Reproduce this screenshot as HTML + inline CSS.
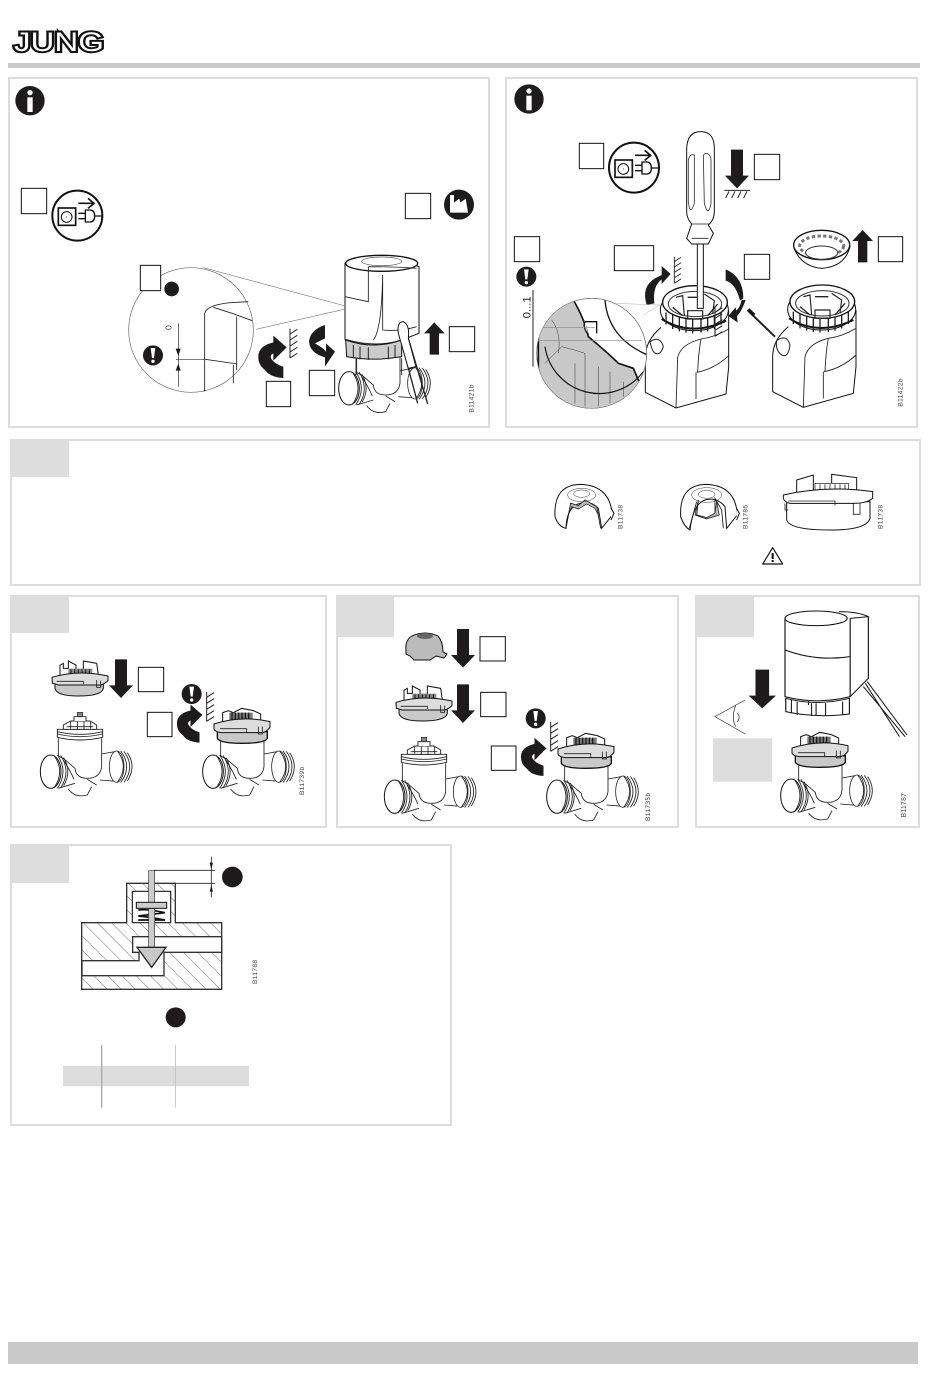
<!DOCTYPE html>
<html><head><meta charset="utf-8"><style>
html,body{margin:0;padding:0;background:#fff}
svg{display:block}
text{font-family:"Liberation Sans",sans-serif}
.p{fill:#fff;stroke:#ddd;stroke-width:2}
.h{fill:#ddd}
.b{fill:#fff;stroke:#111;stroke-width:3}
.l{fill:none;stroke:#222;stroke-width:2.6}
.t{fill:none;stroke:#333;stroke-width:1.5}
.k{fill:#1d1b1b}
.c{font-size:20px;fill:#444;letter-spacing:1px}
</style></head><body>
<svg xmlns="http://www.w3.org/2000/svg" width="950" height="1378" viewBox="0 0 950 1378">
<defs>
<pattern id="hat" width="30" height="30" patternUnits="userSpaceOnUse" patternTransform="rotate(-45)">
<rect width="30" height="30" fill="#fff"/><line x1="0" y1="0" x2="0" y2="30" stroke="#777" stroke-width="3"/>
</pattern>
<g id="info"><circle r="44" class="k"/><circle cy="-24" r="8" fill="#fff"/><rect x="-8" y="-10" width="16" height="44" fill="#fff"/></g>
<g id="excl"><circle r="30" class="k"/><path d="M-7 -22H7L3 8H-3Z" fill="#fff"/><circle cy="18" r="5" fill="#fff"/></g>
<g id="unplug"><circle r="75" fill="#fff" stroke="#111" stroke-width="6"/>
<rect x="-57" y="-23" width="52" height="52" fill="none" stroke="#111" stroke-width="5"/><circle cx="-32" cy="4" r="16" fill="none" stroke="#111" stroke-width="3"/><circle cx="-32" cy="4" r="1.5" fill="#111"/>
<path d="M3 -37H50M32 -52L50 -37L32 -22" fill="none" stroke="#111" stroke-width="5"/>
<path d="M3 -7H24M3 9H24M24 -17H38Q52 -17 52 1Q52 19 38 19H24ZM52 1H76" fill="none" stroke="#111" stroke-width="4"/></g>
<path id="up" d="M-14 32V-32H-31L0 -65L31 -32H14V32Z" class="k"/>
<path id="dn" d="M-18 -58H18V20H36L0 58L-36 20H-18Z" class="k"/>
<path id="cw" d="M-40 68Q-62 52 -60 25Q-58 -5 -15 -15V-35L25 0L-15 40V18Q-28 25 -20 36Q-10 50 15 58V92Q-25 90 -40 68Z" class="k"/>
<g id="wall"><path d="M0 -44V44M0 -28L22 -42M0 -10L22 -24M0 8L22 -6M0 26L22 12M0 44L22 30" fill="none" stroke="#222" stroke-width="3"/></g>
<g id="valve">
<path d="M175 445V495Q175 500 190 505L225 535Q228 565 262 565Q300 565 305 530V445M305 492L350 484M300 570L350 574M225 580L175 595M190 510Q210 540 222 568M205 597Q225 625 262 615L275 590M262 568L290 585" class="l"/>
<ellipse cx="152" cy="545" rx="31" ry="50" class="b" stroke-width="2.5"/>
<path d="M162 496Q196 545 162 594M172 495Q206 545 172 595M182 496Q214 545 182 594M191 503Q216 545 191 587" class="l"/>
<ellipse cx="350" cy="530" rx="22" ry="47" fill="#fff" stroke="#222" stroke-width="2.4"/>
<path d="M352 483Q388 530 352 577M362 483Q398 530 362 578M372 484Q406 530 372 577M382 488Q410 530 382 573" class="l"/>
</g>
<g id="vtop">
<path d="M172 418H308V442Q240 458 172 442Z" fill="#fff" stroke="#222" stroke-width="2.8"/>
<path d="M172 425Q240 441 308 425M172 432Q240 448 308 432" class="l"/>
<path d="M190 405L212 393H270L290 405V418H190Z" fill="#fff" stroke="#222" stroke-width="2.8"/>
<path d="M222 393V380H258V393" fill="#fff" stroke="#222" stroke-width="2.8"/>
<rect x="232" y="367" width="16" height="13" fill="#888" stroke="#222" stroke-width="2"/>
<path d="M200 410H280M212 395V416M232 395V420M252 395V420M272 395V416" class="l"/>
</g>
<g id="adapter">
<path d="M165 280V295Q170 318 235 318Q305 318 310 295V280Z" fill="#c9c9c9" stroke="#111" stroke-width="3"/>
<path d="M180 255V226L190 220V235H205V213L228 225V238H250V213L290 220L295 255" fill="#fff" stroke="#111" stroke-width="3"/>
<rect x="205" y="236" width="72" height="28" fill="#888"/>
<path d="M213 238V262M224 238V262M235 238V262M246 238V262M257 238V262M268 238V262" stroke="#111" stroke-width="3"/>
<path d="M156 262Q235 238 324 258V272Q310 285 300 285H175Q160 280 157 280Z" fill="#ddd" stroke="#111" stroke-width="3"/>
<path d="M170 274H250V282M290 270V292H302V272" fill="none" stroke="#222" stroke-width="2.5"/>
</g>
<g id="adtop">
<path d="M652 425V445Q660 460 725 460Q795 460 802 445V425Z" fill="#c9c9c9" stroke="#111" stroke-width="4"/>
<path d="M668 400V368L685 362L700 368L725 355L760 362L782 372V400Z" fill="#fff" stroke="#111" stroke-width="3"/>
<rect x="688" y="368" width="70" height="36" fill="#777"/>
<path d="M696 368V404M706 368V404M716 368V404M726 368V404M736 368V404M746 368V404" stroke="#111" stroke-width="3.5"/>
<path d="M642 402Q725 375 810 395V412Q798 428 785 428H665Q646 426 642 418Z" fill="#ddd" stroke="#111" stroke-width="3"/>
<path d="M660 416H740V428M775 410V432H787V410" fill="none" stroke="#222" stroke-width="2.5"/>
</g>
<g id="open">
<path d="M880 770Q833 810 833 860V965L925 1012L1075 970L1083 890V720" fill="#fff" stroke="#111" stroke-width="3"/>
<path d="M925 1012L930 860Q940 820 1000 805Q1040 800 1083 775M1000 805Q992 850 990 905M987 905Q1040 895 1083 855M985 905L985 985" class="l"/>
<ellipse cx="980" cy="718" rx="102" ry="62" fill="#fff" stroke="#111" stroke-width="3"/>
<path d="M882 745Q970 800 1075 750" fill="none" stroke="#111" stroke-width="6"/>
<path d="M895 725V762M915 732V775M935 738V782M955 740V786M975 742V788M1000 742V786M1020 738V782M1040 732V775M1060 725V762" stroke="#222" stroke-width="4"/>
<ellipse cx="982" cy="695" rx="97" ry="50" fill="#fff" stroke="#111" stroke-width="4"/>
<ellipse cx="982" cy="700" rx="80" ry="38" fill="none" stroke="#333" stroke-width="3"/>
<path d="M925 680L945 675L950 735M1010 670L1040 690L1035 730M960 720H1005V745H960Z" fill="none" stroke="#222" stroke-width="3.5"/>
<path d="M915 710L945 735M1020 735L1050 700M960 680H1000" stroke="#222" stroke-width="4"/>
</g>
</defs>

<rect width="950" height="1378" fill="#fff"/>

<!-- header -->
<text x="14" y="51" font-size="27" fill="#fff" stroke="#111" stroke-width="4" stroke-linejoin="miter" paint-order="stroke" textLength="90" lengthAdjust="spacingAndGlyphs">JUNG</text>
<rect x="8" y="63" width="912" height="5" fill="#c9c9c9"/>
<rect x="8" y="1342" width="910" height="22" fill="#c9c9c9"/>

<!-- panels -->
<rect class="p" x="9" y="78" width="480" height="349"/>
<rect class="p" x="506" y="78" width="411" height="349"/>
<rect class="p" x="11" y="440" width="909" height="145"/>
<rect class="h" x="12" y="441" width="57" height="36"/>
<rect class="p" x="11" y="596" width="315" height="231"/>
<rect class="h" x="12" y="597" width="57" height="36"/>
<rect class="p" x="337" y="596" width="341" height="231"/>
<rect class="h" x="338" y="597" width="56" height="40"/>
<rect class="p" x="696" y="596" width="223" height="231"/>
<rect class="h" x="697" y="597" width="57" height="40"/>
<rect class="p" x="11" y="845" width="440" height="280"/>
<rect class="h" x="12" y="846" width="57" height="37"/>

<!-- panel 1 -->
<g transform="scale(.33333)">
<use href="#info" x="90" y="302"/>
<rect class="b" x="64" y="565" width="76" height="76"/>
<use href="#unplug" x="232" y="647"/>
<rect class="b" x="1216" y="580" width="76" height="76"/>
<circle cx="1377" cy="614" r="45" class="k"/>
<path d="M1350 638V585H1362V608L1378 596L1381 608L1397 596L1404 638Z" fill="#fff"/>
<g transform="translate(895,620)"><use href="#valve"/></g>
<path d="M1068 1075V1125M1205 1075V1125" class="l"/>
<!-- actuator -->
<path d="M1035 790V1018Q1130 1045 1205 1020L1257 1000V800L1200 775H1070Z" fill="#fff" stroke="#111" stroke-width="3"/>
<ellipse cx="1145" cy="790" rx="108" ry="24" fill="#fff" stroke="#111" stroke-width="4"/>
<ellipse cx="1145" cy="784" rx="60" ry="13" fill="#fff" stroke="#555" stroke-width="2"/>
<path d="M1105 800V905L1035 890M1105 800Q1190 800 1250 805M1148 825V990Q1200 995 1250 980M1148 825Q1145 990 1120 1020" class="l"/>
<path d="M1037 1020Q1120 1050 1205 1020V1070Q1120 1085 1040 1070Z" fill="#ccc" stroke="#111" stroke-width="3"/>
<path d="M1060 1035V1075M1080 1040V1078M1105 1042V1080M1165 1040V1078M1185 1035V1072" stroke="#222" stroke-width="3"/>
<path d="M1200 1010L1253 1210M1222 1005L1283 1212" stroke="#222" stroke-width="4" fill="none"/>
<path d="M1195 1000Q1190 965 1210 965Q1230 975 1225 1015L1248 1100L1225 1105Z" fill="#fff" stroke="#111" stroke-width="3"/>
<use href="#up" x="1303" y="1032"/>
<rect class="b" x="1348" y="980" width="76" height="75"/>
<text class="c" transform="translate(1420,1238) rotate(-90)">B11421b</text>
<use href="#cw" transform="translate(835,1042)"/>
<use href="#wall" transform="translate(870,1030)"/>
<path d="M975 975V1015L945 1030Q980 1050 978 1058V1030L1005 1055L975 1100V1072Q930 1060 927 1025Q930 990 975 975Z" class="k"/>
<rect class="b" x="799" y="1144" width="73" height="76"/>
<rect class="b" x="928" y="1111" width="76" height="76"/>
<!-- magnifier -->
<path d="M610 803L1032 917M768 988L1032 928" stroke="#555" stroke-width="1.5"/>
<circle cx="573" cy="990" r="187" fill="#fff" stroke="#666" stroke-width="2"/>
<path d="M614 1175V940Q620 915 690 908L745 905M640 922Q700 940 757 962M710 950V1110M616 1078L712 1092M700 1095V1150" class="l"/>
<path d="M616 1078H528" stroke="#333" stroke-width="2"/>
<path d="M535 970V1160" stroke="#222" stroke-width="2"/>
<path d="M527 1046H542L535 1068ZM527 1112H542L535 1090Z" class="k"/>
<use href="#excl" x="459" y="1066"/>
<text transform="translate(514,990) rotate(-90)" font-size="26" fill="#333">0</text>
<rect class="b" x="421" y="796" width="61" height="76"/>
<circle cx="515" cy="867" r="22" class="k"/>
</g>

<!-- panel 2 -->
<g transform="translate(495,70) scale(.33333)">
<use href="#info" x="102" y="87"/>
<rect class="b" x="253" y="220" width="73" height="76"/>
<use href="#unplug" x="417" y="293"/>
<rect class="b" x="778" y="253" width="76" height="76"/>
<use href="#dn" x="726" y="297"/>
<path d="M688 361H765M702 364L692 384M720 364L710 384M738 364L728 384M756 364L746 384" stroke="#222" stroke-width="3"/>
<rect class="b" x="58" y="500" width="76" height="75"/>
<rect class="b" x="358" y="527" width="118" height="75"/>
<rect class="b" x="748" y="553" width="76" height="75"/>
<rect class="b" x="1150" y="500" width="73" height="75"/>
<use href="#open" x="-382" y="2"/>
<use href="#open"/>
<!-- screwdriver -->
<path d="M607 510V715H625V510" fill="#fff" stroke="#111" stroke-width="3"/>
<path d="M575 240Q575 185 617 185Q660 185 658 240V425Q658 450 640 465L655 490L640 522H590L575 505L590 462Q575 445 575 425Z" fill="#fff" stroke="#111" stroke-width="3"/>
<path d="M598 255V400Q585 440 580 395V270Q585 250 598 255ZM625 260Q625 250 636 250Q648 255 648 270V400Q640 445 628 400Z" fill="#fff" stroke="#333" stroke-width="2.5"/>
<path d="M588 462H642M590 505H640" class="l"/>
<!-- arrows -->
<path d="M455 705Q438 650 480 625L500 615V588L527 612L500 642V628Q472 648 478 700Z" class="k"/>
<use href="#wall" transform="translate(538,600) scale(.9)"/>
<path d="M692 598Q745 620 745 685L735 692Q722 640 692 632Z" class="k"/>
<path d="M752 690Q738 728 726 738L728 758L700 738L722 712L724 722Q735 712 740 690Z" class="k"/>
<use href="#wall" transform="translate(660,755)"/>
<use href="#up" x="1103" y="545" transform="translate(0,0)"/>
<!-- spare driver right -->
<path d="M757 720L840 800" stroke="#222" stroke-width="6"/>
<path d="M760 718L778 735" stroke="#111" stroke-width="9"/>
<path d="M845 812Q875 790 885 825Q880 865 860 855Q840 840 845 812Z" fill="#fff" stroke="#222" stroke-width="3"/>
<path d="M465 815Q495 795 505 830Q495 860 478 848Q470 840 465 815Z" fill="#fff" stroke="#222" stroke-width="3"/>
<!-- ring -->
<path d="M897 535Q920 590 980 595Q1050 590 1065 530Z" fill="#fff" stroke="#111" stroke-width="3"/>
<ellipse cx="980" cy="525" rx="84" ry="44" fill="#fff" stroke="#111" stroke-width="4"/>
<ellipse cx="980" cy="528" rx="66" ry="30" fill="none" stroke="#777" stroke-width="9" stroke-dasharray="10 7"/>
<ellipse cx="980" cy="548" rx="48" ry="20" fill="#fff" stroke="#333" stroke-width="3"/>
<!-- magnifier -->
<clipPath id="mg"><circle cx="290" cy="850" r="165"/></clipPath>
<circle cx="290" cy="850" r="165" fill="#fff" stroke="#555" stroke-width="2"/>
<g clip-path="url(#mg)">
<path d="M235 690Q270 750 280 800Q340 850 370 880L415 895L430 930L445 945L350 1020H130V700Z" fill="#c8c8c8" stroke="#111" stroke-width="5"/>
<path d="M270 755H305V790M270 755Q262 770 280 795" fill="#fff" stroke="#111" stroke-width="4"/>
<path d="M330 690Q340 810 470 860" fill="none" stroke="#111" stroke-width="4"/>
<path d="M170 750Q200 790 190 850M240 880V1000M270 850V1010M310 890V1010M345 905V1000M385 935V980M150 880L200 830Q240 840 270 850" class="t" stroke-width="2"/>
<path d="M90 772H300M90 812H440" stroke="#888" stroke-width="2"/>
</g>
<circle cx="290" cy="850" r="165" fill="none" stroke="#777" stroke-width="1.5"/>
<path d="M150 830A165 165 0 0 0 445 905" fill="none" stroke="#111" stroke-width="3.5"/>
<path d="M360 700L495 705L445 735" fill="#fff" stroke="#888" stroke-width="1"/>
<use href="#excl" x="94" y="620"/>
<path d="M114 660V890" stroke="#222" stroke-width="3"/>
<text transform="translate(106,745) rotate(-90)" font-size="34" fill="#222">0...1</text>
<text class="c" transform="translate(1222,1010) rotate(-90)">B11422b</text>
</g>

<!-- panel 3 -->
<g transform="translate(530,435) scale(.33333)">
<path d="M75 245Q70 150 150 148Q240 150 247 240L215 280L205 220Q180 195 150 205Q110 215 108 280Q85 275 75 245Z" fill="#fff" stroke="#111" stroke-width="3"/>
<path d="M108 280L122 205L145 212L165 195L200 215L212 280L200 215" fill="none" stroke="#111" stroke-width="2.5"/>
<path d="M115 240L122 205L145 212L165 195L200 215L205 240L195 220L170 207L145 222L125 215Z" fill="#bbb" stroke="#111" stroke-width="2"/>
<ellipse cx="155" cy="180" rx="42" ry="20" class="t"/><ellipse cx="155" cy="176" rx="24" ry="11" class="t"/>
<path d="M243 220L252 235L243 255" class="b"/>
<path d="M452 245Q447 150 527 148Q617 150 622 240L590 280L585 215Q560 185 525 195Q490 205 480 285Q462 275 452 245Z" fill="#fff" stroke="#111" stroke-width="3"/>
<path d="M505 195L500 240L530 248L555 235L555 190L575 225L580 280M500 200L478 280" fill="none" stroke="#111" stroke-width="2.5"/>
<path d="M505 195L500 240L530 248L555 235L560 200L568 240L530 252L495 240Z" fill="#bbb" stroke="#111" stroke-width="2"/>
<ellipse cx="530" cy="180" rx="45" ry="22" class="t"/><ellipse cx="530" cy="178" rx="25" ry="12" class="t"/>
<path d="M620 220L628 235L620 255" class="b"/>
<path d="M770 210V255Q780 285 900 285Q1010 285 1020 250V200H770Z" fill="#fff" stroke="#111" stroke-width="3"/>
<path d="M800 180V135L850 120V178M905 180V118L980 128V180" fill="#fff" stroke="#111" stroke-width="3"/>
<rect x="855" y="145" width="100" height="40" fill="#fff" stroke="#111" stroke-width="2"/>
<path d="M870 148V185M885 148V185M900 148V185M915 148V185M930 148V185M945 148V185" stroke="#222" stroke-width="2.5"/>
<path d="M760 180Q890 150 1028 170V190Q1010 205 970 205H780Q762 200 760 190Z" fill="#fff" stroke="#111" stroke-width="3"/>
<path d="M775 198H915V212M970 205V238H990V205M765 205V225H775" fill="none" stroke="#222" stroke-width="2.5"/>
<text class="c" transform="translate(278,282) rotate(-90)">B11738</text>
<text class="c" transform="translate(652,282) rotate(-90)">B11786</text>
<text class="c" transform="translate(1058,282) rotate(-90)">B11738</text>
<path d="M728 338L758 387H698Z" fill="#fff" stroke="#111" stroke-width="3.5" stroke-linejoin="round"/>
<rect x="725" y="354" width="6" height="18" fill="#111"/><rect x="725" y="375" width="6" height="6" fill="#111"/>
</g>

<!-- panel 4 -->
<g transform="translate(0,590) scale(.33333)">
<use href="#adapter"/>
<use href="#dn" x="363" y="266"/>
<rect class="b" x="415" y="232" width="76" height="73"/>
<use href="#valve"/><use href="#vtop"/>
<use href="#valve" x="487"/>
<use href="#adtop"/>
<use href="#excl" x="575" y="312"/>
<use href="#wall" transform="translate(620,350)"/>
<use href="#cw" transform="translate(585,375) scale(.9)"/>
<rect class="b" x="442" y="367" width="74" height="73"/>
<text class="c" transform="translate(912,615) rotate(-90)">B11739b</text>
</g>

<!-- panel 5 -->
<path d="M406 650Q405 640 412 636Q425 630 438 636Q443 642 443 652L447 654L444 658L436 656L430 660H414L410 656L406 654Z" fill="#bbb" stroke="#111"/>
<ellipse cx="425" cy="636" rx="8" ry="3" fill="#666"/>
<g transform="translate(344,615) scale(.33333)">
<use href="#dn" x="357" y="100"/>
<rect class="b" x="408" y="65" width="76" height="73"/>
<use href="#adapter"/>
<use href="#dn" x="357" y="266"/>
<rect class="b" x="410" y="232" width="76" height="73"/>
<use href="#valve"/><use href="#vtop"/>
<use href="#valve" x="487"/>
<use href="#adtop"/>
<use href="#excl" x="575" y="310"/>
<use href="#wall" transform="translate(620,365)"/>
<use href="#cw" transform="translate(585,400) scale(.9)"/>
<rect class="b" x="442" y="393" width="74" height="73"/>
<text class="c" transform="translate(918,618) rotate(-90)">B11735b</text>
</g>

<!-- panel 6 -->
<g transform="translate(578,614) scale(.33333)">
<use href="#valve" x="0" transform="translate(487,0)"/>
<use href="#adtop"/>
</g>
<g transform="translate(335,590) scale(.3788,.3333)">
<rect class="h" x="998" y="445" width="156" height="130"/>
<path d="M1188 85V320Q1270 345 1360 320V85" fill="#fff" stroke="#111" stroke-width="3"/>
<ellipse cx="1270" cy="85" rx="82" ry="22" fill="#fff" stroke="#111" stroke-width="3"/>
<path d="M1360 85L1408 80V265L1360 320M1330 65Q1380 65 1408 80M1188 180Q1270 215 1360 200" fill="none" stroke="#111" stroke-width="3"/>
<path d="M1190 325Q1270 350 1358 325V372Q1270 385 1190 365Z" fill="#fff" stroke="#111" stroke-width="3"/>
<path d="M1205 330V370M1220 335V375M1258 340V378M1270 340V378M1295 340V378M1340 335V375M1250 330V345" stroke="#222" stroke-width="3"/>
<path d="M1400 280L1490 440M1395 290L1505 440M1405 275L1510 435" stroke="#222" stroke-width="3" fill="none"/>
<use href="#dn" x="1128" y="297"/>
<path d="M1083 330L1003 380L1083 432M1058 345Q1045 385 1058 410M1062 370Q1072 380 1062 395" fill="none" stroke="#333" stroke-width="2"/>
<text class="c" transform="translate(1507,682) rotate(-90)">B11787</text>
</g>

<!-- panel 7 -->
<g transform="translate(0,840) scale(.33333)">
<path d="M245 248H380V130H526V248H665V448H245Z" fill="url(#hat)" stroke="#333" stroke-width="4"/>
<rect x="397" y="154" width="115" height="94" fill="#fff" stroke="#222" stroke-width="3.5"/>
<path d="M665 290H398V337H417V362H246V407H492V337H665Z" fill="#fff" stroke="#333" stroke-width="4"/>
<path d="M415 210Q440 206 495 218L415 228Q440 230 495 240L415 240" fill="none" stroke="#111" stroke-width="5"/>
<rect x="446" y="92" width="18" height="235" fill="#ccc" stroke="#333" stroke-width="2"/>
<rect x="409" y="187" width="91" height="18" fill="#ccc" stroke="#111" stroke-width="3"/>
<path d="M411 322H498L455 382Z" fill="#c8c8c8" stroke="#222" stroke-width="4"/>
<path d="M462 91H645M526 130H645M634 50V172" stroke="#222" stroke-width="2.5"/>
<path d="M629 68H639L634 88ZM629 155H639L634 135Z" class="k"/>
<circle cx="697" cy="111" r="31" class="k"/>
<circle cx="527" cy="532" r="30" class="k"/>
<rect x="189" y="678" width="558" height="61" fill="#ddd"/>
<path d="M305 615V803" stroke="#aaa" stroke-width="4"/>
<path d="M526 615V803" stroke="#bbb" stroke-width="2.5"/>
<text class="c" transform="translate(771,432) rotate(-90)">B11788</text>
</g>
</svg>
</body></html>
